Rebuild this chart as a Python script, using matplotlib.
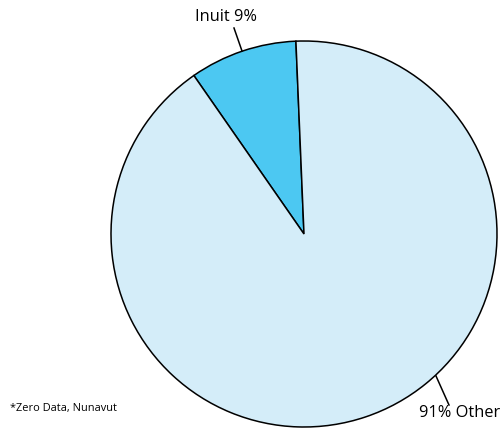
import matplotlib.pyplot as plt

labels = ["Inuit", "Other"]
shares = [9, 91]
colors = ["#4cc8f2", "#d4edf9"]

W, H = 503, 428
fig = plt.figure(figsize=(W / 100, H / 100), dpi=100)
ax = fig.add_axes([0, 0, 1, 1])

cx, cy, r = 304, H - 234, 193
ax.pie(
    shares,
    colors=colors,
    startangle=92.4,
    counterclock=True,
    center=(cx, cy),
    radius=r,
    frame=True,
    wedgeprops={"edgecolor": "black", "linewidth": 1.1},
)
ax.set_xlim(0, W)
ax.set_ylim(0, H)
ax.set_aspect("equal")
ax.axis("off")

font = "Open Sans"
# leader lines
ax.plot([242, 234], [H - 51, H - 28], color="black", lw=1.1)
ax.plot([436, 449], [H - 376, H - 405], color="black", lw=1.1)

ax.text(226, H - 17, f"{labels[0]} {shares[0]}%", ha="center", va="center",
        fontsize=11.8, family=font)
ax.text(460, H - 413, f"{shares[1]}% {labels[1]}", ha="center", va="center",
        fontsize=11.8, family=font)
ax.text(10, H - 409, "*Zero Data, Nunavut", ha="left", va="center",
        fontsize=7.9, family=font)

fig.savefig("out.png", dpi=100)
